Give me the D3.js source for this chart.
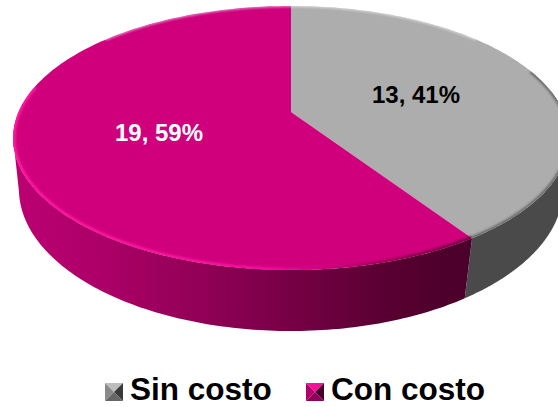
<!DOCTYPE html>
<html><head><meta charset="utf-8">
<script src="https://cdn.jsdelivr.net/npm/d3@7"></script>
<style>html,body{margin:0;padding:0;background:#fff;overflow:hidden}svg{display:block}text{font-family:"Liberation Sans",Arial,sans-serif;font-weight:bold}</style>
</head><body><svg id="c" width="558" height="407"></svg>
<script>
const categories = ["Sin costo", "Con costo"];
const values = [13, 19];
const topColors = ["#adadad", "#d0007d"];
const labelColors = ["#000000", "#ffffff"];

const svg = d3.select("#c");
const defs = svg.append("defs");
const cx = 291;
const topFace = {R: 272.5, B: 126.9, y0: 112, k: 0.197};
const baseFace = {R: 268, B: 137.8, y0: 164.6, k: 0.172};
const project = (f, t) => {
  const d = 1 + f.k * Math.cos(t);
  return [cx + f.R * Math.sin(t) / d, f.y0 - f.B * Math.cos(t) / d];
};
const arcPts = (f, a, b) => d3.range(0, 121).map(i => project(f, a + (b - a) * i / 120));
const line = d3.line();
const pie = d3.pie().sort(null).value(d => d)(values);
const rad = d => d * Math.PI / 180;
const leftTangent = rad(259), rightTangent = rad(80);

function grad(id, x1, x2, stops) {
  const g = defs.append("linearGradient").attr("id", id).attr("gradientUnits", "userSpaceOnUse")
    .attr("x1", x1).attr("x2", x2).attr("y1", 0).attr("y2", 0);
  stops.forEach(s => g.append("stop").attr("offset", s[0]).attr("stop-color", s[1]));
}
grad("wallM", 15, 468, [[0, "#bc0072"], [0.2, "#ab0067"], [0.5, "#85004f"], [0.85, "#55002f"], [1, "#4a002a"]]);
grad("rimM", 15, 472, [[0, "#ff1aa0"], [0.55, "#f5109a"], [0.68, "#d0007d"], [0.85, "#90004f"], [1, "#70003f"]]);
defs.append("filter").attr("id", "soft").attr("x", "-5%").attr("y", "-5%").attr("width", "110%").attr("height", "110%")
  .append("feGaussianBlur").attr("stdDeviation", 0.8);
defs.append("clipPath").attr("id", "topClip").append("path")
  .attr("d", line(arcPts(topFace, 0, 2 * Math.PI)) + "Z");

const split = pie[0].endAngle;
const wall = (a, b, fill) => svg.append("path")
  .attr("d", line(arcPts(topFace, a, b).concat(arcPts(baseFace, b, a))) + "Z")
  .attr("fill", fill);
wall(rightTangent, split, "#4a4a4a");
wall(split, leftTangent, "url(#wallM)");

pie.forEach((p, i) => {
  const pts = [[cx, topFace.y0]].concat(arcPts(topFace, p.startAngle, p.endAngle));
  svg.append("path").attr("d", line(pts) + "Z").attr("fill", topColors[i]);
});

const rim = svg.append("g").attr("clip-path", "url(#topClip)");
rim.append("path").attr("d", line(arcPts(topFace, split, rad(282))))
  .attr("fill", "none").attr("stroke", "url(#rimM)").attr("stroke-width", 5).attr("filter", "url(#soft)");
rim.append("path").attr("d", line(arcPts(topFace, rad(70), split)))
  .attr("fill", "none").attr("stroke", "#6a6a6a").attr("stroke-width", 4).attr("filter", "url(#soft)");
rim.append("path").attr("d", line(arcPts(topFace, rad(-50), rad(50))))
  .attr("fill", "none").attr("stroke", "#ffffff").attr("stroke-opacity", 0.6).attr("stroke-width", 2).attr("filter", "url(#soft)");

const labelPos = [[416, 103], [159, 141]];
const total = d3.sum(values);
values.forEach((v, i) => {
  svg.append("text").attr("x", labelPos[i][0]).attr("y", labelPos[i][1])
    .attr("text-anchor", "middle").attr("font-size", 24).attr("fill", labelColors[i])
    .text(v + ", " + d3.format(".0%")(v / total));
});

const legendX = [105, 306], legendY = 383, m = 18;
const bevels = [["#bdbdbd", "#8a8a8a", "#3a3a3a", "#666666"], ["#f5109a", "#b0006a", "#4a002c", "#90005a"]];
categories.forEach((c, i) => {
  const x = legendX[i], y = legendY, q = [x + m / 2, y + m / 2], b = bevels[i];
  const tris = [[[x, y], [x + m, y], q], [[x, y], [x, y + m], q], [[x + m, y], [x + m, y + m], q], [[x, y + m], [x + m, y + m], q]];
  b.forEach((col, j) => svg.append("path").attr("d", line(tris[j]) + "Z").attr("fill", col));
  svg.append("text").attr("x", x + 25).attr("y", 400.3).attr("font-size", 31.5).attr("fill", "#000").text(c);
});
</script></body></html>
